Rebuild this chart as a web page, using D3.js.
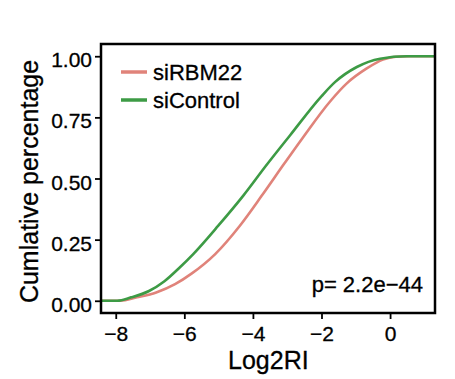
<!DOCTYPE html>
<html>
<head>
<meta charset="utf-8">
<script src="https://cdn.jsdelivr.net/npm/d3@7"></script>
<style>
  body { margin: 0; background: #fff; }
  text { font-family: "Liberation Sans", Arial, sans-serif; fill: #000; stroke: #000; stroke-width: 0.3px; }
</style>
</head>
<body>
<svg class="chart"></svg>
<script>
// cumulative curves (Log2RI, cumulative fraction)
const RBM22_X = [-8.43, -7.87, -7.38, -6.82, -6.27, -5.78, -5.10, -4.38, -3.74, -3.09, -2.54, -1.75, -1.27, -0.68, -0.21, 0.17, 0.58, 1.31];
const RBM22_Y = [0, 0, 0.014, 0.034, 0.068, 0.112, 0.191, 0.307, 0.430, 0.560, 0.668, 0.815, 0.888, 0.950, 0.986, 0.998, 1, 1];

const CTRL_X = [-8.43, -7.96, -7.55, -7.03, -6.58, -6.15, -5.74, -5.01, -4.28, -3.62, -2.92, -1.99, -1.60, -0.97, -0.29, 0.48, 1.31];
const CTRL_Y = [0, 0, 0.014, 0.040, 0.080, 0.134, 0.191, 0.307, 0.430, 0.552, 0.676, 0.838, 0.895, 0.956, 0.990, 1, 1];

const SERIES = ["siRBM22", "siControl"];
const X_TICKS = [-8, -6, -4, -2, 0];
const Y_TICKS = [0, 0.25, 0.5, 0.75, 1];
const P_LABEL = "p= 2.2e\u221244";

const colors = ["#e0837a", "#3d9b45"];

const WIDTH = 455, HEIGHT = 379;
const margins = { top: 44, right: 20, bottom: 66, left: 101 };
const W = WIDTH - margins.left - margins.right;
const H = HEIGHT - margins.top - margins.bottom;

var svg = d3.select('.chart')
    .attr('width', WIDTH)
    .attr('height', HEIGHT);

var x = d3.scaleLinear().domain([-8.43, 1.31]).range([0, W]);
var y = d3.scaleLinear().domain([-0.05, 1.05]).range([H, 0]);

var g = svg.append('g')
    .attr('transform', 'translate(' + margins.left + ',' + margins.top + ')');

// axes
var xAxis = g.append('g')
    .attr('transform', 'translate(0,' + H + ')')
    .call(d3.axisBottom(x).tickValues(X_TICKS).tickSize(6).tickPadding(7));

var yAxis = g.append('g')
    .call(d3.axisLeft(y).tickValues(Y_TICKS).tickFormat(d3.format('.2f')).tickSize(6).tickPadding(3));

[xAxis, yAxis].forEach(a => {
    a.select('.domain').remove();
    a.selectAll('.tick line').attr('stroke', '#000').attr('stroke-width', 1.8);
    a.selectAll('.tick text').style('font-size', '21px').attr('fill', '#000');
});
yAxis.selectAll('.tick text').attr('dy', '0.5em');

// curves
var line = d3.line()
    .x(d => x(d[0]))
    .y(d => y(d[1]))
    .curve(d3.curveMonotoneX);

var curves = [d3.zip(RBM22_X, RBM22_Y), d3.zip(CTRL_X, CTRL_Y)];

g.selectAll('.curve')
    .data(curves)
    .enter()
    .append('path')
    .attr('class', 'curve')
    .attr('d', line)
    .attr('fill', 'none')
    .attr('stroke', (d, i) => colors[i])
    .attr('stroke-width', 2.6);

// panel border
g.append('rect')
    .attr('x', 0).attr('y', 0)
    .attr('width', W).attr('height', H)
    .attr('fill', 'none')
    .attr('stroke', '#000')
    .attr('stroke-width', 2.5);

// legend
var leg = g.selectAll('.legend')
    .data(SERIES)
    .enter()
    .append('g')
    .attr('class', 'legend')
    .attr('transform', (d, i) => 'translate(20,' + (28 + i * 28) + ')');

leg.append('line')
    .attr('x1', 0).attr('x2', 26)
    .attr('stroke', (d, i) => colors[i])
    .attr('stroke-width', 3.5);

leg.append('text')
    .attr('x', 32)
    .attr('y', 7.5)
    .style('font-size', '22px')
    .text(d => d);

// p value
g.append('text')
    .attr('x', W - 12)
    .attr('y', H - 21.5)
    .style('text-anchor', 'end')
    .style('font-size', '22px')
    .text(P_LABEL);

// axis titles
svg.append('text')
    .attr('x', margins.left + x(-3.55))
    .attr('y', 369)
    .style('text-anchor', 'middle')
    .style('font-size', '25px')
    .text('Log2RI');

svg.append('text')
    .attr('transform', 'translate(38,' + (margins.top + H / 2 + 3) + ') rotate(-90)')
    .style('text-anchor', 'middle')
    .style('font-size', '25px')
    .text('Cumlative percentage');
</script>
</body>
</html>
